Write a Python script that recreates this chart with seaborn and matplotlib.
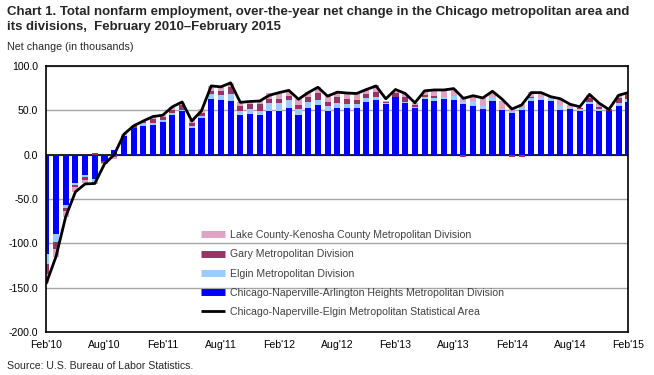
import numpy as np
import pandas as pd
import matplotlib
matplotlib.use("Agg")
import matplotlib.pyplot as plt
import seaborn as sns
from matplotlib.lines import Line2D

# ---- data (thousands) ----
months = [d.strftime("%b'%y") for d in pd.date_range("2010-02-01", periods=61, freq="MS")]
tick_labels = ["Feb'10", "Aug'10", "Feb'11", "Aug'11", "Feb'12", "Aug'12",
               "Feb'13", "Aug'13", "Feb'14", "Aug'14", "Feb'15"]

chicago = [-112, -89.5, -56.5, -31.8, -23, -27.8, -6.8, 5.6, 21, 30.5, 32.7, 33.5,
           37.2, 44.8, 49.4, 30.5, 41.8, 62.8, 61.6, 60.5, 45, 46.2, 45, 49.4,
           49.4, 53, 44.7, 53, 56.4, 49.4, 53, 53, 53, 59.4, 62, 57.5,
           65.4, 58.6, 53, 62.8, 60.5, 62.8, 61.7, 57.5, 55, 51.5, 60.5, 50.4,
           47.4, 50.4, 60.5, 61.7, 60.5, 50.4, 51.5, 49.2, 57.5, 49.2, 49.2, 55, 59.4]
elgin = [-11.5, -8.5, -3.5, -2, -1.8, -2.7, 0, 0, 0, 0, 2.6, 1.8,
         1.5, 1.8, 0.5, 1.5, 1.9, 5.6, 6.1, 8.3, 4.6, 4.8, 4.0, 9.0,
         8.4, 8.7, 6.3, 6.8, 5.3, 5.4, 5.6, 4.0, 4.0, 4.9, 3.0, 0.5,
         0, 1.2, 1.0, 1.9, 3.8, 1.9, 4.8, 2.3, 5.0, 3.5, 4.9, 1.6,
         1.1, 1.9, 3.8, 3.0, 3.0, 5.6, 1.9, 1.8, 2.3, 1.8, 0, 3.0, 3.4]
gary = [-11, -8.4, -3, -3, -3.8, 1.5, -2.2, -2.3, 0, 2.2, 1.7, 4.7,
        3.5, 3.8, 6.0, 4.2, 3.5, 3.2, 3.7, 7.9, 5.4, 5.8, 7.8, 4.9,
        5.5, 4.3, 5.0, 4.9, 8.3, 5.0, 6.1, 5.8, 5.0, 3.7, 5.3, 1.0,
        3.6, 4.9, 2.0, 2.6, 2.2, 0, 0, -2.6, 0, 0, 0, 0,
        -2.5, -2.5, 1.0, 0, 0, 0, 0, 2.0, 4.5, 3.0, 2.3, 6.3, 4.5]
lake = [-10.5, -9, -7.7, -4.9, -3.7, -2.5, -1.5, -2.7, 2.3, 0, 0.5, 2.8,
        2.5, 3.6, 2.6, 2.8, 3.8, 6.2, 5.3, 3.8, 4.0, 3.7, 4.2, 5.7,
        6.8, 6.0, 6.4, 5.6, 6.0, 6.2, 6.3, 7.2, 7.0, 5.7, 8.3, 2.0,
        1.3, 3.3, 2.0, 3.0, 5.3, 7.5, 7.2, 4.5, 5.4, 8.5, 5.6, 8.0,
        5.5, 4.7, 5.0, 5.6, 1.9, 5.7, 2.6, 0, 3.0, 3.9, 0, 3.0, 2.0]
msa = [-145, -115, -70, -42, -33, -32.5, -10.5, 0, 23, 32.5, 38, 43,
       44.5, 54, 59.5, 38, 49.5, 77.5, 76.5, 81, 59, 60, 60.5, 67,
       70, 72.5, 62.5, 70, 76, 66, 70.5, 69.5, 69, 73.5, 77.5, 63,
       73.5, 69, 58.5, 72, 73, 73, 74.5, 63.5, 66.5, 64, 71.5, 62.5,
       51.5, 56, 70, 70, 65.4, 63, 56.8, 54, 68, 58, 51, 67, 70]

series_names = ["Chicago-Naperville-Arlington Heights Metropolitan Division",
                "Elgin Metropolitan Division",
                "Gary Metropolitan Division",
                "Lake County-Kenosha County Metropolitan Division"]
line_name = "Chicago-Naperville-Elgin Metropolitan Statistical Area"
colors = ["#0000FF", "#99CCFF", "#993366", "#E0A3C4"]

# ---- figure ----
sns.set_style("white")
plt.rcParams["font.family"] = ["Liberation Sans", "DejaVu Sans"]

fig = plt.figure(figsize=(6.54, 3.75), dpi=100)
ax = fig.add_axes([46.3 / 654, 1 - 332 / 375, (628.3 - 46.3) / 654, (332 - 66) / 375])

n = len(months)
x = np.arange(n)
pos_b = np.zeros(n)
neg_b = np.zeros(n)
for vals, c in zip([chicago, elgin, gary, lake], colors):
    v = np.array(vals, dtype=float)
    bottom = np.where(v >= 0, pos_b, neg_b)
    ax.bar(x, v, width=0.62, bottom=bottom, color=c, linewidth=0, zorder=2)
    pos_b += np.clip(v, 0, None)
    neg_b += np.clip(v, None, 0)

sns.lineplot(x=x, y=msa, ax=ax, color="black", linewidth=2, zorder=4, legend=False)

ax.axhline(0, color="black", linewidth=1.2, zorder=1.5)
ax.set_xlim(0, n - 1)
ax.set_ylim(-200, 100)
ax.set_yticks(np.arange(-200, 101, 50))
ax.set_yticklabels([f"{t:.1f}" for t in np.arange(-200, 101, 50)])
ax.set_xticks([months.index(t) for t in tick_labels])
ax.set_xticklabels(tick_labels)
ax.tick_params(length=0, labelsize=7.6, colors="black", pad=6)
ax.yaxis.grid(True, color="#A6A6A6", linewidth=1, zorder=0)
ax.xaxis.grid(False)
ax.set_axisbelow(True)
for s in ax.spines.values():
    s.set_visible(True)
    s.set_color("black")
    s.set_linewidth(1.2)
ax.set_xlabel("")
ax.set_ylabel("")

handles = [Line2D([], [], color=colors[3], lw=5, solid_capstyle="butt"),
           Line2D([], [], color=colors[2], lw=5, solid_capstyle="butt"),
           Line2D([], [], color=colors[1], lw=5, solid_capstyle="butt"),
           Line2D([], [], color=colors[0], lw=5, solid_capstyle="butt"),
           Line2D([], [], color="black", lw=2, solid_capstyle="butt")]
labels = [series_names[3], series_names[2], series_names[1], series_names[0], line_name]
leg = ax.legend(handles, labels, loc="upper left",
                bbox_to_anchor=(201 / 654, 1 - 230 / 375), bbox_transform=fig.transFigure,
                frameon=False, fontsize=7.6, handlelength=2.3, handletextpad=0.4,
                labelspacing=0.88, borderpad=0, borderaxespad=0)
for t in leg.get_texts():
    t.set_color("#404040")

fig.text(7 / 654, 1 - 12 / 375,
         "Chart 1. Total nonfarm employment, over-the-year net change in the Chicago metropolitan area and",
         fontsize=9.5, fontweight="bold", ha="left", va="center")
fig.text(7 / 654, 1 - 27 / 375, "its divisions,  February 2010\u2013February 2015",
         fontsize=9.5, fontweight="bold", ha="left", va="center")
fig.text(7 / 654, 1 - 47 / 375, "Net change (in thousands)", fontsize=7.7, ha="left", va="center")
fig.text(7 / 654, 1 - 366 / 375, "Source: U.S. Bureau of Labor Statistics.", fontsize=7.6,
         ha="left", va="center")

fig.savefig("out.png", dpi=100)
